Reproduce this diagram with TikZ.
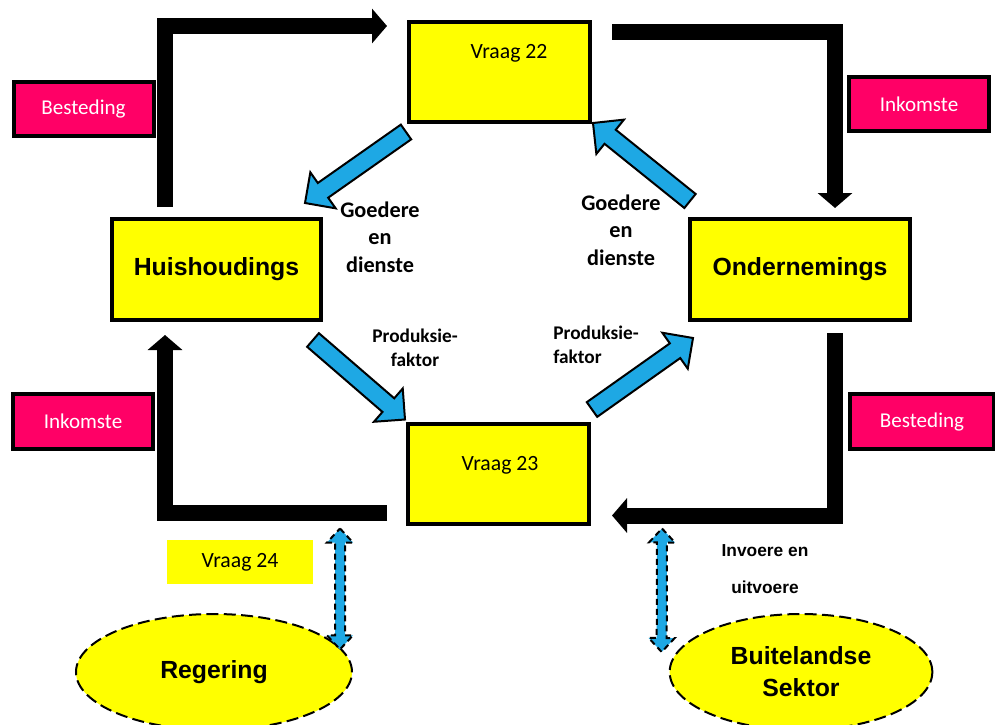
\documentclass[tikz,border=0pt]{standalone}
\usepackage{fontspec}
\setmainfont{Carlito}
\newfontfamily\arialfont{Liberation Sans}
\usepackage{xcolor}
\usepackage{tikz}
\usetikzlibrary{shapes.geometric,arrows.meta,positioning,calc}

\definecolor{boxyellow}{RGB}{255,255,0}
\definecolor{tagpink}{RGB}{255,0,102}
\definecolor{flowblue}{RGB}{30,168,228}

% fat blue arrow from #1 (tail) to #2 (tip)
\newcommand\fatarrow[2]{%
  \coordinate (fa-h) at ($(#2)!16.5pt!(#1)$);
  \filldraw[fill=flowblue, draw=black, line width=1.5pt]
    ($(#1)!6.75pt!90:(#2)$) -- ($(fa-h)!6.75pt!90:(#2)$) -- ($(fa-h)!16.5pt!90:(#2)$)
    -- (#2) -- ($(fa-h)!16.5pt!-90:(#2)$) -- ($(fa-h)!6.75pt!-90:(#2)$)
    -- ($(#1)!6.75pt!-90:(#2)$) -- cycle;}

% dashed two-headed arrow
\newcommand\dblarrow[2]{%
  \coordinate (da-a) at ($(#1)!10.5pt!(#2)$);
  \coordinate (da-b) at ($(#2)!10.5pt!(#1)$);
  \filldraw[fill=flowblue, draw=black, line width=1.5pt, dash pattern=on 4.5pt off 3pt]
    (#1) -- ($(da-a)!9.75pt!90:(#2)$) -- ($(da-a)!3.75pt!90:(#2)$)
    -- ($(da-b)!3.75pt!90:(#2)$) -- ($(da-b)!9.75pt!90:(#2)$) -- (#2)
    -- ($(da-b)!9.75pt!-90:(#2)$) -- ($(da-b)!3.75pt!-90:(#2)$)
    -- ($(da-a)!3.75pt!-90:(#2)$) -- ($(da-a)!9.75pt!-90:(#2)$) -- cycle;}

\begin{document}
\begin{tikzpicture}[
  x=0.75pt, y=-0.75pt,
  bigbox/.style={rectangle, draw=black, line width=3pt, fill=boxyellow,
                 minimum height=75.75pt, inner sep=0pt,
                 font=\arialfont\bfseries\fontsize{18.6}{22}\selectfont},
  qbox/.style={bigbox, minimum width=135.75pt, minimum height=75pt},
  tag/.style={rectangle, draw=black, line width=3pt, fill=tagpink, text=white,
              minimum width=105pt, minimum height=41pt,
              font=\fontsize{15.8}{18}\selectfont},
  sector/.style={ellipse, draw=black, line width=1.5pt, dash pattern=on 9pt off 4pt,
                 fill=boxyellow, minimum width=207pt, minimum height=87pt,
                 inner sep=0pt, align=center,
                 font=\arialfont\bfseries\fontsize{18.6}{24}\selectfont},
  qtext/.style={font=\fontsize{16.3}{20}\selectfont},
  note/.style={font=\bfseries\fontsize{16.7}{20.6}\selectfont, align=center},
  small/.style={font=\bfseries\fontsize{14.5}{18}\selectfont},
  money/.style={line width=12pt, -{Triangle[length=11.25pt, width=25.5pt]}}
]
\useasboundingbox (0,0) rectangle (995,724);

\node[bigbox, minimum width=156.75pt] (huis)  at (216.5,269.5) {Huishoudings};
\node[bigbox, minimum width=165pt]    (onder) at (800,269.5)   {Ondernemings};
\node[qbox] (v22) at (499.5,72)  {};
\node[qbox] (v23) at (498.5,473.5) {};
\node[qtext] (v22t) at (509,53)  {Vraag 22};
\node[qtext] (v23t) at (500,465) {Vraag 23};

\node[tag] (best1) at (83.5,109)  {Besteding};
\node[tag] (ink1)  at (919,104)   {Inkomste};
\node[tag] (ink2)  at (83,421.5)  {Inkomste};
\node[tag, minimum width=108pt] (best2) at (922,421.5) {Besteding};

\node[qtext, fill=boxyellow, minimum width=109.5pt, minimum height=33pt] (v24) at (240,562) {Vraag 24};

\node[sector] (reg) at (214,672) {Regering};
\node[sector, minimum width=197pt] (buit) at (801,672) {Buitelandse\\Sektor};

\node[note] (gd1) at (380,237) {Goedere\\en\\dienste};
\node[note] (gd2) at (621,230) {Goedere\\en\\dienste};
\node[small, align=center] (pf1) at (415,348) {Produksie-\\faktor};
\node[small, align=left]   (pf2) at (596,345) {Produksie-\\faktor};
\node[font=\arialfont\bfseries\fontsize{13}{27.75}\selectfont, align=center] (trade) at (765,569.5) {Invoere en\\uitvoere};

% money flows
\draw[money] ($(huis.north west)+(55,-10)$) |- ($(v22.north west)+(-20,6)$);
\draw[money] ($(v22.north east)+(20,12)$) -| ($(onder.north west)+(147,-9)$);
\draw[money] ($(onder.south west)+(147,11)$) |- ($(v23.south east)+(21,-10)$);
\draw[money] ($(v23.south west)+(-19,-13)$) -| ($(huis.south west)+(55,13)$);

% goods and factor flows
\coordinate (a1) at ($(v22.south west)+(-1,8)$);
\coordinate (a1t) at ($(huis.north east)+(-18,-14)$);
\coordinate (a2) at ($(onder.north west)+(2,-16)$);
\coordinate (a2t) at ($(v22.south east)+(1,-1)$);
\coordinate (a3) at ($(huis.south east)+(-10,18)$);
\coordinate (a3t) at ($(v23.north west)+(-1,-2)$);
\coordinate (a4) at ($(v23.north east)+(1,-12)$);
\coordinate (a4t) at ($(onder.south west)+(5,16)$);
\fatarrow{a1}{a1t}
\fatarrow{a2}{a2t}
\fatarrow{a3}{a3t}
\fatarrow{a4}{a4t}

\coordinate (g1) at ($(v23.south west)+(-66,3)$);
\coordinate (g2) at (g1 |- reg.10);
\coordinate (i1) at ($(v23.south east)+(71,3)$);
\coordinate (i2) at ($(buit.west)+(-7,-20)$);
\dblarrow{g1}{g2}
\dblarrow{i1}{i2}
\end{tikzpicture}
\end{document}
